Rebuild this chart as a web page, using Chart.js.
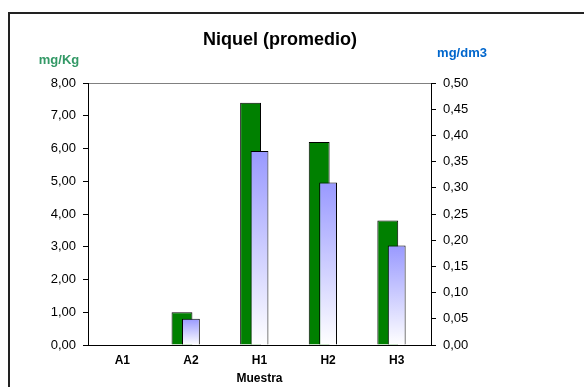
<!DOCTYPE html>
<html>
<head>
<meta charset="utf-8">
<script src="https://cdn.jsdelivr.net/npm/chart.js@4"></script>
<style>
  body { margin: 0; background: #fff; }
  canvas { display: block; }
</style>
</head>
<body>
<canvas id="niquelChart" width="584" height="387"></canvas>
<script>
// datos
const muestras = ['A1', 'A2', 'H1', 'H2', 'H3'];
const mgKg = [0, 1.0, 7.4, 6.2, 3.8];          // eje izquierdo
const mgDm3 = [0, 0.05, 0.37, 0.31, 0.19];     // eje derecho

const fmt = v => Number(v).toFixed(2).replace('.', ',');

// marco, titulo y unidades
const decoPlugin = {
    id: 'deco',
    beforeDraw(chart) {
        const ctx = chart.ctx;
        ctx.save();
        ctx.fillStyle = '#fff';
        ctx.fillRect(0, 0, chart.width, chart.height);
        ctx.strokeStyle = '#222';
        ctx.lineWidth = 2;
        ctx.beginPath();
        ctx.moveTo(9, chart.height);
        ctx.lineTo(9, 13);
        ctx.lineTo(chart.width, 13);
        ctx.stroke();
        ctx.restore();
    },
    afterDraw(chart) {
        const ctx = chart.ctx;
        ctx.save();
        ctx.textAlign = 'center';
        ctx.textBaseline = 'alphabetic';
        ctx.fillStyle = '#000';
        ctx.font = 'bold 18px "Liberation Sans", Arial, sans-serif';
        ctx.fillText('Niquel (promedio)', 280, 45);
        ctx.font = 'bold 13px "Liberation Sans", Arial, sans-serif';
        ctx.fillStyle = '#339966';
        ctx.fillText('mg/Kg', 59, 64);
        ctx.fillStyle = '#0066cc';
        ctx.fillText('mg/dm3', 462, 57);
        ctx.restore();
    }
};

function blueGradient(context) {
    const chart = context.chart;
    if (!chart.chartArea || context.type !== 'data') return '#9999ff';
    const scale = chart.scales.y2;
    const top = scale.getPixelForValue(context.raw);
    const bottom = scale.getPixelForValue(0);
    if (bottom - top < 1) return '#9999ff';
    const g = chart.ctx.createLinearGradient(0, top, 0, bottom);
    g.addColorStop(0, '#9999ff');
    g.addColorStop(1, '#ffffff');
    return g;
}

Chart.defaults.font.family = '"Liberation Sans", Arial, sans-serif';
Chart.defaults.color = '#000';

new Chart(document.getElementById('niquelChart').getContext('2d'), {
    type: 'bar',
    data: {
        labels: muestras,
        datasets: [{
            // azul encima, centrado en la categoria
            label: 'mg/dm3',
            data: mgDm3,
            yAxisID: 'y2',
            grouped: false,
            backgroundColor: blueGradient,
            borderColor: '#000',
            borderWidth: 1,
            categoryPercentage: 0.26,
            barPercentage: 1
        }, {
            label: 'mg/Kg',
            data: mgKg,
            yAxisID: 'y',
            backgroundColor: '#008000',
            borderColor: '#000',
            borderWidth: 1,
            categoryPercentage: 0.52,
            barPercentage: 1.17
        }, {
            // hueco vacio para desplazar la barra verde a la izquierda
            label: '',
            data: muestras.map(() => null),
            yAxisID: 'y'
        }]
    },
    options: {
        responsive: false,
        animation: false,
        layout: { padding: { top: 83, left: 0, right: 0, bottom: 0 } },
        plugins: {
            legend: { display: false },
            tooltip: { enabled: false }
        },
        scales: {
            x: {
                grid: { display: false, drawTicks: false },
                border: { color: '#000', width: 1 },
                ticks: { padding: 8, font: { size: 12, weight: 'bold' } },
                title: { display: true, text: 'Muestra', font: { size: 12, weight: 'bold' }, padding: { top: 0, bottom: 1 } },
                afterFit(scale) { scale.height = 42; }
            },
            y: {
                position: 'left',
                min: 0,
                max: 8,
                ticks: { stepSize: 1, padding: 7, font: { size: 13 }, callback: v => fmt(v) },
                grid: {
                    drawOnChartArea: true,
                    tickLength: 5,
                    tickColor: '#000',
                    color: c => (c.tick && c.tick.value === 8) ? '#808080' : 'rgba(0,0,0,0)'
                },
                border: { color: '#000', width: 1 },
                afterFit(scale) { scale.width = 88; }
            },
            y2: {
                position: 'right',
                min: 0,
                max: 0.5,
                ticks: { stepSize: 0.05, padding: 7, font: { size: 13 }, callback: v => fmt(v) },
                grid: { drawOnChartArea: false, tickLength: 5, tickColor: '#000' },
                border: { color: '#000', width: 1 },
                afterFit(scale) { scale.width = 153; }
            }
        }
    },
    plugins: [decoPlugin]
});
</script>
</body>
</html>
